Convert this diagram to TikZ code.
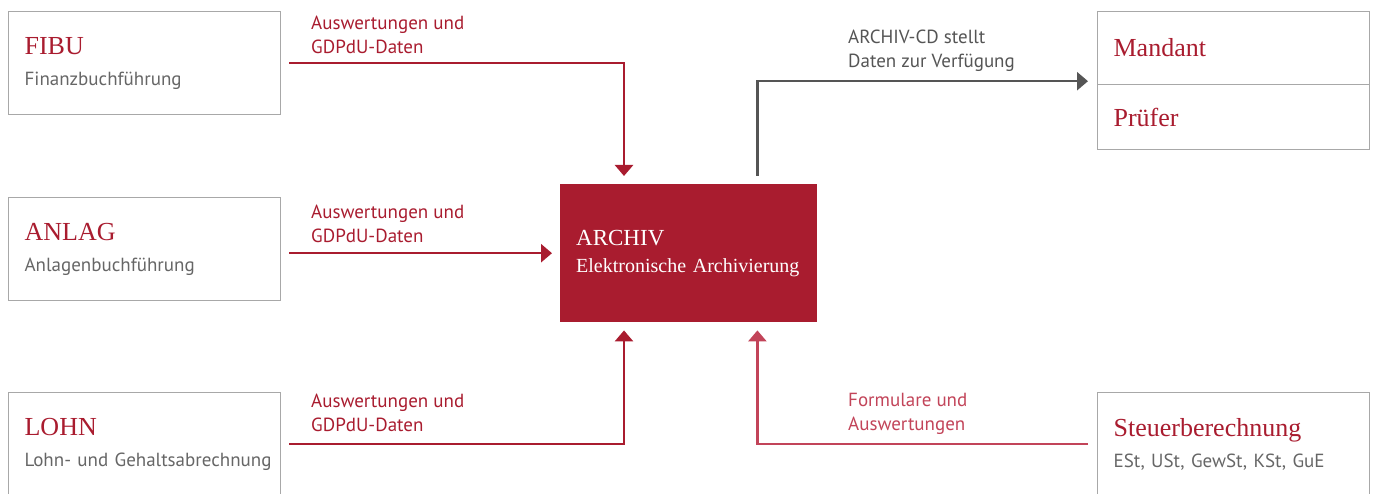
\documentclass[tikz,border=0pt]{standalone}
\usepackage{fontspec}
\setmainfont{Liberation Serif}
\setsansfont{PT Sans}
\usepackage{tikz}
\usetikzlibrary{arrows.meta}
\definecolor{archivred}{HTML}{A91C2F}
\definecolor{formred}{HTML}{C24459}
\definecolor{cdgray}{HTML}{555555}
\definecolor{boxgray}{HTML}{A8A8A8}
\definecolor{subgray}{HTML}{666666}
\newcommand{\modtitle}[1]{{\fontsize{26}{31}\selectfont\color{archivred}#1}}
\newcommand{\modsub}[1]{{\sffamily\fontsize{19}{31}\selectfont\color{subgray}\mbox{#1}}}
\tikzset{modbox/.style={draw=boxgray, line width=1.2pt, anchor=north west,
           minimum height=103pt, text width=240pt, inner xsep=16pt, align=left,
           font=\fontsize{19}{31}\selectfont},
         flow/.style={line width=2.6pt, -{Triangle[length=11pt,width=18pt]}},
         flowlabel/.style={anchor=north west, align=left, inner sep=0pt,
           font=\sffamily\fontsize{19}{24}\selectfont}}

\begin{document}
\begin{tikzpicture}[x=1pt,y=-1pt]
\useasboundingbox (0,0) rectangle (1375,494);
\node[modbox] (fibu) at (8,11) {\modtitle{FIBU}\\\modsub{Finanzbuchführung}};
\node[modbox] (anlag) at (8,197) {\modtitle{ANLAG}\\\modsub{Anlagenbuchführung}};
\node[modbox] (lohn) at (8,392) {\modtitle{LOHN}\\\modsub{Lohn- und Gehaltsabrechnung}};
\node[modbox] (steuer) at (1097,392) {\modtitle{Steuerberechnung}\\\modsub{ESt, USt, GewSt, KSt, GuE}};
\node[modbox, minimum height=73pt] (mandant) at (1097,11) {\modtitle{Mandant}};
\node[modbox, minimum height=65pt] (pruefer) at (1097,84) {\modtitle{Prüfer}};
\node[fill=archivred, text=white, anchor=north west, minimum width=257pt, minimum height=138pt,
      text width=225pt, inner xsep=16pt, align=left, font=\fontsize{20}{27}\selectfont] (archiv) at (560,184)
      {{\fontsize{23}{27}\selectfont ARCHIV}\\Elektronische Archivierung};

\draw[flow, archivred] ([xshift=8pt]fibu.east) -| ([xshift=64pt,yshift=8pt]archiv.north west);
\draw[flow, archivred] ([xshift=8pt]anlag.east |- archiv.west) -- ([xshift=-8pt]archiv.west);
\draw[flow, archivred] ([xshift=8pt]lohn.east) -| ([xshift=64pt,yshift=-8pt]archiv.south west);
\draw[flow, formred] ([xshift=-9pt]steuer.west) -| ([xshift=-60pt,yshift=-8pt]archiv.south east);
\draw[flow, cdgray] ([xshift=-60pt,yshift=8pt]archiv.north east) |- ([xshift=-9pt,yshift=4pt]mandant.south west);

\node[flowlabel, text=archivred] (fibulbl) at (311,16) {Auswertungen und\\GDPdU-Daten};
\node[flowlabel, text=archivred] (anlaglbl) at (311,205) {Auswertungen und\\GDPdU-Daten};
\node[flowlabel, text=archivred] (lohnlbl) at (311,394) {Auswertungen und\\GDPdU-Daten};
\node[flowlabel, text=formred] (steuerlbl) at (848,393) {Formulare und\\Auswertungen};
\node[flowlabel, text=cdgray] (cdlbl) at (848,30) {ARCHIV-CD stellt\\Daten zur Verfügung};
\end{tikzpicture}
\end{document}
